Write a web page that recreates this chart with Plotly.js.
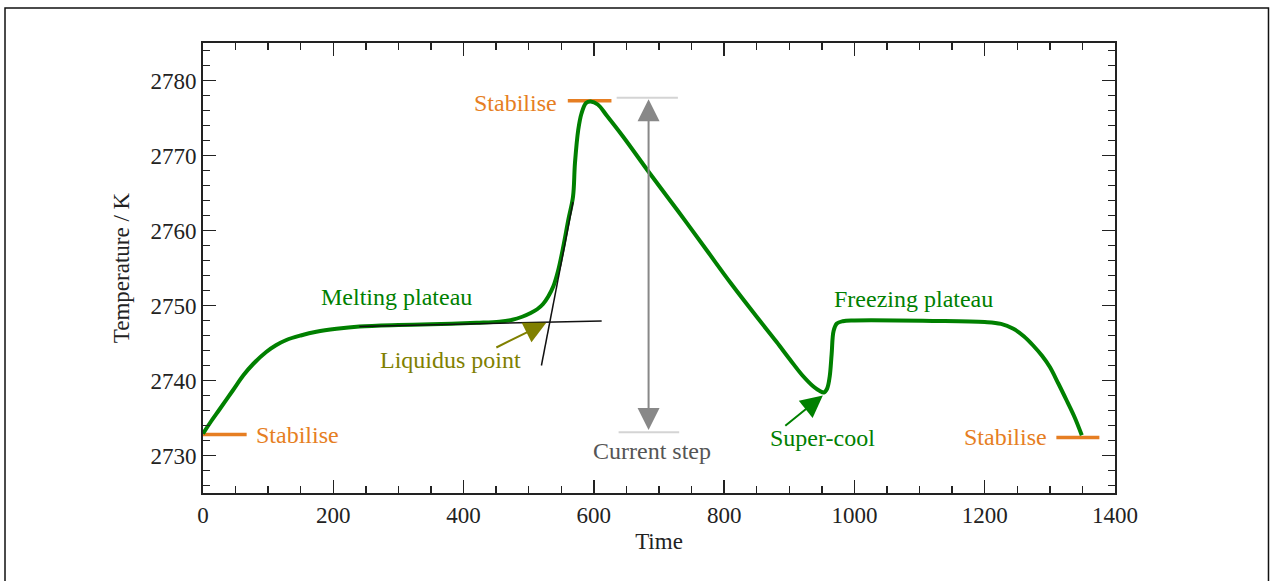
<!DOCTYPE html>
<html>
<head>
<meta charset="utf-8">
<script src="https://cdn.plot.ly/plotly-3.0.1.min.js"></script>
<style>
html,body{margin:0;padding:0;background:#fff;}
#chart{width:1270px;height:581px;}
</style>
</head>
<body>
<div id="chart"></div>
<script>
// ---- data ----
const curveTime = [0, 12, 25, 46, 62, 77, 97, 112, 128, 150, 174, 205, 240, 300, 350, 420, 455, 475, 490, 503, 513, 522, 530, 538, 545, 553, 561, 568, 571, 576, 581, 588, 595, 606, 620, 645, 686, 730, 773, 810, 850, 880, 901, 920, 937, 947, 953, 958, 962, 965, 968, 973, 982, 1000, 1120, 1200, 1225, 1244, 1260, 1274, 1288, 1300, 1313, 1326, 1338, 1349];
const curveTemp = [2732.9, 2734.5, 2736.1, 2738.7, 2740.7, 2742.2, 2743.8, 2744.7, 2745.4, 2746.0, 2746.5, 2746.9, 2747.2, 2747.4, 2747.5, 2747.7, 2747.85, 2748.1, 2748.5, 2749.0, 2749.5, 2750.2, 2751.2, 2752.6, 2754.6, 2757.8, 2761.5, 2764.5, 2769.0, 2773.4, 2775.6, 2777.0, 2777.2, 2776.8, 2775.3, 2772.5, 2767.6, 2762.5, 2757.4, 2753.0, 2748.5, 2745.2, 2742.8, 2740.7, 2739.2, 2738.6, 2738.4, 2738.9, 2740.5, 2743.5, 2746.6, 2747.6, 2747.9, 2748.0, 2747.95, 2747.8, 2747.55, 2746.9, 2745.9, 2744.7, 2743.3, 2741.8, 2739.6, 2737.3, 2735.1, 2732.7];

const stabiliseStartTime = [0, 67];
const stabiliseStartTemp = [2732.8, 2732.8];
const stabilisePeakTime = [560, 627];
const stabilisePeakTemp = [2777.3, 2777.3];
const stabiliseEndTime = [1310, 1376];
const stabiliseEndTemp = [2732.4, 2732.4];

const plateauTangentTime = [240, 612];
const plateauTangentTemp = [2747.2, 2747.95];
const riseTangentTime = [519.5, 568];
const riseTangentTemp = [2742.0, 2763.8];

const stepTopTime = [635, 729];
const stepTopTemp = [2777.7, 2777.7];
const stepBottomTime = [638, 731];
const stepBottomTemp = [2733.1, 2733.1];
const stepArrowTime = 684;
const stepArrowTemps = [2733.2, 2777.5];

const liquidusTip = [527, 2747.7];
const liquidusTail = [448, 2744.3];
const supercoolTip = [951.5, 2738.0];
const supercoolTail = [891.6, 2733.8];

const xTicks = [0, 200, 400, 600, 800, 1000, 1200, 1400];
const yTicks = [2730, 2740, 2750, 2760, 2770, 2780];

// ---- colours / styles ----
const GREEN = '#008000';
const ORANGE = '#e67e22';
const OLIVE = '#808000';
const FONT = 'Liberation Serif, Times New Roman, serif';

function seg(x, y, color, width) {
  return {x: x, y: y, type: 'scatter', mode: 'lines', hoverinfo: 'skip', showlegend: false,
          line: {color: color, width: width}};
}

const traces = [
  seg(stepTopTime, stepTopTemp, '#d4d4d4', 2),
  seg(stepBottomTime, stepBottomTemp, '#d4d4d4', 2),
  seg(stabiliseStartTime, stabiliseStartTemp, ORANGE, 3.5),
  seg(stabilisePeakTime, stabilisePeakTemp, ORANGE, 3.5),
  seg(stabiliseEndTime, stabiliseEndTemp, ORANGE, 3.5),
  {x: curveTime, y: curveTemp, type: 'scatter', mode: 'lines', showlegend: false, hoverinfo: 'skip',
   line: {color: GREEN, width: 4, shape: 'spline', smoothing: 1.0}},
  seg(plateauTangentTime, plateauTangentTemp, '#111', 1.5),
  seg(riseTangentTime, riseTangentTemp, '#111', 1.5)
];

function label(text, x, y, color, xanchor) {
  return {text: text, x: x, y: y, xref: 'x', yref: 'y', showarrow: false,
          xanchor: xanchor || 'center', yanchor: 'middle',
          font: {family: FONT, size: 24, color: color}};
}
function arrow(tip, tail, color, side) {
  return {text: '', x: tip[0], y: tip[1], ax: tail[0], ay: tail[1], xref: 'x', yref: 'y',
          axref: 'x', ayref: 'y', showarrow: true, arrowhead: 2, arrowsize: 2.2, arrowwidth: 2,
          arrowcolor: color, standoff: 0, startstandoff: 0, arrowside: side || 'end', startarrowhead: 2, startarrowsize: 2.2};
}

const annotations = [
  label('Stabilise', 78, 2732.7, ORANGE, 'left'),
  label('Stabilise', 547, 2777.0, ORANGE, 'right'),
  label('Stabilise', 1298, 2732.45, ORANGE, 'right'),
  label('Melting plateau', 297, 2751.2, GREEN),
  label('Freezing plateau', 1091, 2750.9, GREEN),
  label('Liquidus point', 380, 2742.7, OLIVE),
  label('Current step', 690, 2730.6, '#555555'),
  label('Super-cool', 951, 2732.3, GREEN),
  arrow([stepArrowTime, stepArrowTemps[1]], [stepArrowTime, stepArrowTemps[0]], '#888888', 'end+start'),
  arrow(liquidusTip, liquidusTail, OLIVE),
  arrow(supercoolTip, supercoolTail, GREEN)
];

const axisCommon = {
  showline: true, linecolor: '#222', linewidth: 2, mirror: 'ticks',
  ticks: 'inside', ticklen: 13, tickwidth: 1.5, tickcolor: '#222',
  showgrid: false, zeroline: false,
  tickfont: {family: FONT, size: 23, color: '#222'},
};

const layout = {
  width: 1270, height: 581,
  margin: {l: 203, r: 155, t: 43, b: 88},
  paper_bgcolor: '#fff', plot_bgcolor: '#fff',
  xaxis: Object.assign({}, axisCommon, {
    range: [0, 1400], tickmode: 'array', tickvals: xTicks, ticktext: xTicks.map(String),
    minor: {ticks: 'inside', ticklen: 7, tickwidth: 1.5, tickcolor: '#222', dtick: 50, tick0: 0, showgrid: false},
    title: {text: 'Time', font: {family: FONT, size: 23, color: '#222'}, standoff: 6}
  }),
  yaxis: Object.assign({}, axisCommon, {
    range: [2725, 2785], tickmode: 'array', tickvals: yTicks, ticktext: yTicks.map(String),
    minor: {ticks: 'inside', ticklen: 7, tickwidth: 1.5, tickcolor: '#222', dtick: 2, tick0: 2730, showgrid: false},
    title: {text: 'Temperature / K', font: {family: FONT, size: 23, color: '#222'}, standoff: 14}
  }),
  annotations: annotations,
  shapes: [{type: 'rect', xref: 'paper', yref: 'paper', x0: -0.2171, x1: 1.1683, y0: -0.25, y1: 1.0778,
            line: {color: '#111', width: 1.5}, fillcolor: 'rgba(0,0,0,0)', layer: 'below'}]
};

Plotly.newPlot('chart', traces, layout, {staticPlot: true, displayModeBar: false});
</script>
</body>
</html>
